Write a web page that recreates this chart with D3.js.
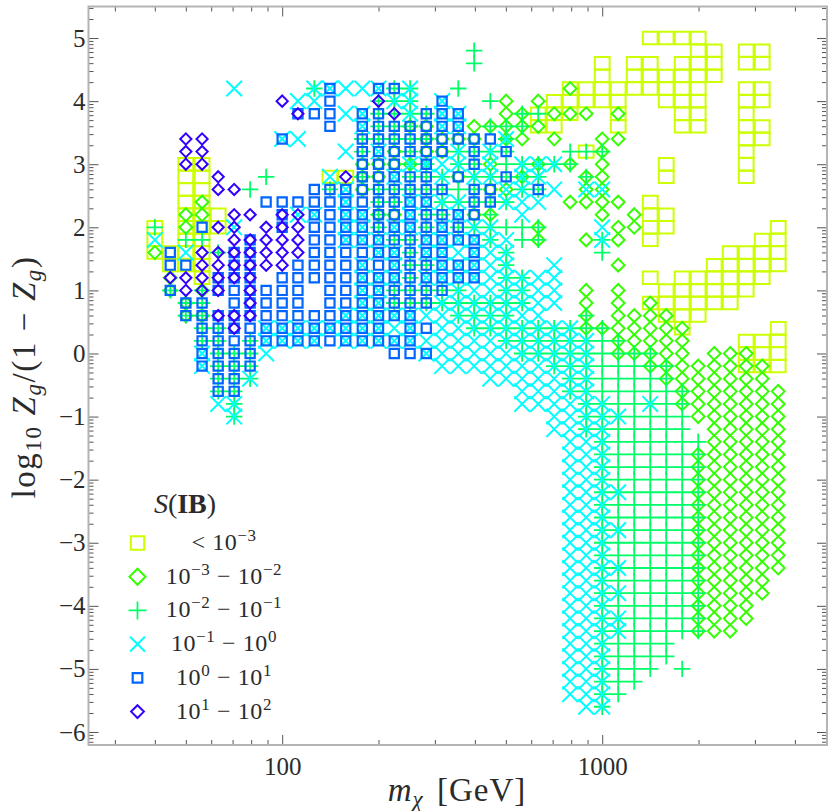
<!DOCTYPE html>
<html>
<head>
<meta charset="utf-8">
<script src="https://cdn.jsdelivr.net/npm/d3@7"></script>
<style>
  html, body { margin: 0; padding: 0; background: #fff; }
  svg { display: block; }
  text { font-family: "Liberation Serif", serif; fill: #2b2b2b; }
</style>
</head>
<body>
<div id="chart"></div>
<script>
// scan masses in GeV, rows below give positions in this grid relative to 100 GeV
const massGrid = [40, 44.7, 50, 56.2, 63.1, 70.8, 79.4, 89.1, 100, 112, 126, 141, 158, 178, 200, 224, 251, 282, 316, 355,
    398, 447, 501, 562, 631, 708, 794, 891, 1000, 1122, 1259, 1413, 1585, 1778, 1995, 2239, 2512, 2818, 3162, 3548];

// each row: [log10 Zg/(1-Zg), [mass grid positions]]
const lowest = [
    [5.0, [23,24,25,26]], [4.8, [26,27,29,30]], [4.6, [20,22,23,25,26,27,29,30]], [4.4, [20,22,23,24,25,26,27]],
    [4.2, [18,19,20,21,22,23,24,25,26,29,30]], [4.0, [17,18,19,20,21,24,25,26,29,30]], [3.8, [16,17,18,21,25,26,29]],
    [3.6, [16,17,21,25,26,29,30]], [3.4, [29,30]], [3.2, [19,29]], [3.0, [-6,-5,24,29]], [2.8, [-6,-5,3,4,24,29]],
    [2.6, [-6,-5]], [2.4, [-6,-5,23]], [2.2, [-6,-5,-4,23,24]], [2.0, [-8,-6,-5,-4,23,24,31]], [1.8, [-8,-6,-5,23,30,31]],
    [1.6, [-8,-7,-6,-5,28,29,30,31]], [1.4, [-7,-6,-5,27,28,29,30,31]], [1.2, [-5,23,25,26,27,28,29,30]],
    [1.0, [24,25,26,27,28,29]], [0.8, [23,24,25,26,27,28]], [0.6, [24,25,26]], [0.4, [25,31]],
    [0.2, [29,30,31]], [0, [29,30,31]], [-0.2, [29,30,31]]
];
const low = [
    [4.2, [18]], [4.0, [14,16]], [3.8, [14,15,17,18,19,21]], [3.6, [8,9,12,13,14,15,16]], [3.4, [9,10,11,12,14,15,17,20,21]],
    [3.2, [7,9,10,20]], [3.0, [5,6,7,8,13,16,18,20]], [2.8, [5,6,11,15,19,20]], [2.6, [5,13,14,19,20]], [2.4, [-5,18,19,20,21]],
    [2.2, [-6,-5,6,7,12,13,20,22]], [2.0, [-6,16,21,22]], [1.8, [16,19,21]], [1.6, [-8]], [1.4, [21]], [1.2, [-7]],
    [1.0, [-7,-5,19,21]], [0.8, [-6,19,21,23]], [0.6, [-6,-5,19,21,22,23,24]], [0.4, [19,20,21,22,23,24,25]],
    [0.2, [21,22,23,24,25]], [0, [21,22,23,24,25,27,28,29]], [-0.2, [23,24,25,26,27,28,29,30]], [-0.4, [24,25,26,27,28,29,30]],
    [-0.6, [25,26,27,28,29,30,31]], [-0.8, [25,26,27,28,29,30,31]], [-1.0, [26,27,28,29,30,31]], [-1.2, [27,28,29,30,31]],
    [-1.4, [27,28,29,30,31]], [-1.6, [26,27,28,29,30,31]], [-1.8, [26,27,28,29,30,31]], [-2.0, [26,27,28,29,30,31]],
    [-2.2, [26,27,28,29,30,31]], [-2.4, [26,27,28,29,30,31]], [-2.6, [26,27,28,29,30,31]], [-2.8, [26,27,28,29,30,31]],
    [-3.0, [26,27,28,29,30,31]], [-3.2, [26,27,28,29,30,31]], [-3.4, [26,27,28,29,30,31]], [-3.6, [26,27,28,29,30]],
    [-3.8, [26,27,28,29,30]], [-4.0, [26,27,28,29]], [-4.2, [26,27,28,29]], [-4.4, [26,27,28]]
];
const middle = [
    [4.8, [12]], [4.6, [12]], [4.2, [2,7,8,11]], [4.0, [6,7,8,13]], [3.8, [6,7,8,9,15,16]], [3.6, [6,7,8,13,14,15]],
    [3.4, [5,6,7,8,9,14]], [3.2, [5,8,11,12,13,14,18,19,20]], [3.0, [8,9,11,12,14,15,16,17,18]],
    [2.8, [-1,5,8,9,10,12,13,14,15,16,19]], [2.6, [-2,3,6,7,8,9,10,11,12,15,16]], [2.4, [6,7,10,11,12,13,14]],
    [2.2, [6,9,10,13]], [2.0, [-8,6,9,11,12,13,14,15,16]], [1.8, [-6,-5,7,8,13,15,16,20]], [1.6, [-4,8,14,20]], [1.4, [8,9,14]],
    [1.2, [8,14,15]], [1.0, [-7,-5,7,8,9,10,11,14,15]], [0.8, [-6,-5,7,8,9,10,11,12,13,14,15]], [0.6, [-6,-5,11,12,13,14,19]],
    [0.4, [-5,-4,12,13,14,15,16,17,18,19,20]], [0.2, [-5,-4,-2,14,15,16,17,18,19,20,21]],
    [0, [-4,-3,-2,15,16,17,18,19,20,21,22,23]], [-0.2, [-4,-3,-2,17,18,19,20,21,22,23,24]], [-0.4, [-4,-3,-2,18,19,20,21,22,23,24]],
    [-0.6, [-4,-3,18,19,20,21,22,23,24,25]], [-0.8, [-3,19,20,21,22,23,24,25]], [-1.0, [-3,19,20,21,22,23,24,25]],
    [-1.2, [19,20,21,22,23,24,25]], [-1.4, [20,21,22,23,24,25,26]], [-1.6, [20,21,22,23,24,25,26]], [-1.8, [20,21,22,23,24,25,26]],
    [-2.0, [20,21,22,23,24,25,26]], [-2.2, [20,21,22,23,24,25,26]], [-2.4, [20,21,22,23,24,25,26]], [-2.6, [20,21,22,23,24,25,26]],
    [-2.8, [20,21,22,23,24,25,26]], [-3.0, [20,21,22,23,24,25,26]], [-3.2, [20,21,22,23,24,25,26]], [-3.4, [20,21,22,23,24,25,26]],
    [-3.6, [20,21,22,23,24,25,26]], [-3.8, [20,21,22,23,24,25,26]], [-4.0, [20,21,22,23,24,25,26]], [-4.2, [20,21,22,23,24,25,26]],
    [-4.4, [20,21,22,23,24,25,26]], [-4.6, [20,21,22,23,24]], [-4.8, [20,21,22,23,24]], [-5.0, [20,21,22,23,25]],
    [-5.2, [20,21,22]], [-5.4, [20,21]], [-5.6, [20]]
];
const high = [
    [4.2, [-3,2,3,4,5,6,8]], [4.0, [1,2,7,8,10]], [3.8, [4,5,8,10,11]], [3.6, [5,10,11]], [3.4, [0,1,14]], [3.2, [4,6,11,13]],
    [3.0, [8,9,10,11,13,15,16,17]], [2.8, [3,7,10,12,13,15,16]], [2.6, [4,14,15,17,19,20]], [2.4, [4,8,9,10,11,14,15,16]],
    [2.2, [1,2,4,5,8,11,15]], [2.0, [-3,4,5,7,8,10,12,13,20]], [1.8, [-8,4,5,6,9,10,11,12,13,14,20]],
    [1.6, [-6,6,7,9,10,11,12,13,14]], [1.4, [5,7,10,11,12,13,14,17]], [1.2, [5,6,7,9,10,11,12,13,14,15,16,17]],
    [1.0, [5,6,11,12,13,14,15,16,17]], [0.8, [5,6,10,11,12,13,14,15,16,17]], [0.6, [4,5,6,7,8,9,10,11,12,13,14,15,16]],
    [0.4, [-1,0,1,2,3,4,5,6,7,8,10,11,12,13,14,15,16,17,18]], [0.2, [-1,0,1,2,4,5,6,7,8,9,10,11,12,13,14,15,16,17,18,19]],
    [0, [-5,-1,9,10,11,12,13,14,15,16,17,18,19]], [-0.2, [-5,10,11,12,13,14,15,16,17,18,19]], [-0.4, [-2,13,14,15,16,17,18,19]],
    [-0.6, [15,16,17,18,19]], [-0.8, [-4,-3,15,16,17,18,19,20,23]], [-1.0, [-3,17,18,19,20,21]], [-1.2, [17,18,19,20]],
    [-1.4, [18,19,20]], [-1.6, [18,19,20]], [-1.8, [18,19,20]], [-2.0, [18,19,20]], [-2.2, [18,19,20,21]], [-2.4, [18,19,20]],
    [-2.6, [18,19,20]], [-2.8, [18,19,20,21]], [-3.0, [18,19,20]], [-3.2, [18,19,20]], [-3.4, [18,19,20,21]], [-3.6, [18,19,20]],
    [-3.8, [18,19,20,21]], [-4.0, [18,19,20]], [-4.2, [18,19,20,21]], [-4.4, [18,19,20,21]], [-4.6, [18,19,20]], [-4.8, [18,19,20]],
    [-5.0, [18,19,20]], [-5.2, [18,19,20]], [-5.4, [18,19,20]], [-5.6, [19,20]]
];
const higher = [
    [4.2, [3,6,7]], [4.0, [3,10]], [3.8, [1,2,3,5,6,9,10,11]], [3.6, [3,5,6,7,8,9,10,11]], [3.4, [0,5,6,7,8,9,10,11,12,13]],
    [3.2, [5,6,7,8,9,10,12,14]], [3.0, [5,6,7,9,12]], [2.8, [5,6,7,8,9,11,14]], [2.6, [2,3,4,5,6,7,8,9,10,12,13,16]],
    [2.4, [-1,0,1,2,3,4,5,6,7,8,9,12,13]], [2.2, [0,2,3,4,5,6,7,8,9,10,11,12]], [2.0, [-5,0,2,3,4,5,6,7,8,9,10,11]],
    [1.8, [-2,2,3,4,5,6,7,8,9,10,11,12]], [1.6, [-7,-3,-2,2,3,4,5,6,7,8,9,10,12]], [1.4, [-7,-6,-3,-2,1,2,3,4,5,6,7,8,9,10,11,12]],
    [1.2, [-4,-3,-2,0,1,2,3,4,5,6,7,8,9,10,11,12]], [1.0, [-7,-4,-3,-2,-1,0,1,3,4,5,6,7,8,9,10]], [0.8, [-6,-5,-3,-2,-1,0,1,3,4,5,6,7,8,9]],
    [0.6, [-6,-5,-4,-3,-2,-1,0,1,2,3,4,5,6,7,8]], [0.4, [-5,-4,-3,-2,-1,0,1,2,3,4,5,6,8,9]], [0.2, [-5,-4,-3,-2,-1,0,1,2,3,4,5,6,7,8]],
    [0, [-5,-4,-3,-2,7,8,9]], [-0.2, [-5,-4,-3,-2]], [-0.4, [-4,-3]], [-0.6, [-4,-3]]
];
const highest = [
    [4.0, [0,6]], [3.8, [1,7]], [3.4, [-6,-5]], [3.2, [-6,-5]], [3.0, [-6,-5]], [2.8, [-4,4]], [2.6, [-4,-3]], [2.2, [-3,-2,0,1]],
    [2.0, [-4,-3,-1,0,1]], [1.8, [-3,-2,-1,0,1]], [1.6, [-5,-4,-3,-2,-1,0,1]], [1.4, [-5,-4,-3,-2,-1,0]], [1.2, [-7,-6,-5,-4,-3,-2]],
    [1.0, [-6,-5,-4,-2]], [0.8, [-2]], [0.6, [-4,-3,-2]], [0.4, [-3]]
];

const xMajorTicks = [100, 1000];
const xMinorTicks = [30, 40, 50, 60, 70, 80, 90, 200, 300, 400, 500, 600, 700, 800, 900, 2000, 3000, 4000];
const yMajorTicks = [-6, -5, -4, -3, -2, -1, 0, 1, 2, 3, 4, 5];
const legendLabels = ["< 10^−3", "10^−3 − 10^−2", "10^−2 − 10^−1", "10^−1 − 10^0", "10^0 − 10^1", "10^1 − 10^2"];

const width = 830, height = 811;
const plot = {left: 88.5, right: 827, top: 6.5, bottom: 745};

const x = d3.scaleLog().domain([24.82, 5040]).range([plot.left, plot.right]);
const y = d3.scaleLinear().domain([-6.206, 5.50]).range([plot.bottom, plot.top]);

const rectPath = (rx, ry) => `M${-rx},${-ry}H${rx}V${ry}H${-rx}Z`;
const diamondPath = r => `M0,${-r}L${r},0L0,${r}L${-r},0Z`;
const plusPath = r => `M${-r},0H${r}M0,${-r}V${r}`;
const timesPath = r => `M${-r},${-r}L${r},${r}M${-r},${r}L${r},${-r}`;

// Mathematica Hue colours, one per S(IB) bin
const series = [
    {rows: lowest, color: "#ccff00", sw: 2, path: rectPath(7.4, 6.2), key: rectPath(6.7, 6.7)},
    {rows: low, color: "#33ff00", sw: 2, path: diamondPath(6.4), key: diamondPath(8)},
    {rows: middle, color: "#00ff66", sw: 1.8, path: plusPath(8.2), key: plusPath(9)},
    {rows: high, color: "#00ffff", sw: 2, path: timesPath(7.8), key: timesPath(7.4)},
    {rows: higher, color: "#0066ff", sw: 2.2, path: rectPath(4.6, 4.6), key: rectPath(4.8, 4.8)},
    {rows: highest, color: "#3300ff", sw: 2, path: diamondPath(5.6), key: diamondPath(6.4)}
];

const svg = d3.select("#chart").append("svg")
    .attr("width", width)
    .attr("height", height)
    .attr("viewBox", `0 0 ${width} ${height}`);

// points
series.forEach(s => {
    const points = s.rows.flatMap(([z, cols]) => cols.map(k => ({m: massGrid[k + 8], z: z})));
    svg.append("g").selectAll("path")
        .data(points)
        .join("path")
            .attr("transform", d => `translate(${x(d.m)},${y(d.z)})`)
            .attr("d", s.path)
            .attr("fill", "none")
            .attr("stroke", s.color)
            .attr("stroke-width", s.sw);
});

// frame and ticks
const yMinorTicks = yMajorTicks.concat([-7]).flatMap(t => [2, 3, 4, 5, 6, 7, 8, 9].map(n => t + Math.log10(n)))
    .filter(t => t > y.domain()[0] && t < y.domain()[1]);

const drawAxis = (axis, dx, dy) => {
    const g = svg.append("g").attr("transform", `translate(${dx},${dy})`).call(axis);
    g.select(".domain").remove();
    g.selectAll(".tick line").attr("stroke", "#555").attr("stroke-width", 1);
    return g;
};

drawAxis(d3.axisBottom(x).tickValues(xMajorTicks).tickSize(-10).tickPadding(12).tickFormat(d => d), 0, plot.bottom)
    .selectAll("text").style("font-size", "25px").style("font-family", "Liberation Serif").attr("fill", "#2b2b2b");
drawAxis(d3.axisBottom(x).tickValues(xMinorTicks).tickSize(-5).tickFormat(""), 0, plot.bottom);
drawAxis(d3.axisTop(x).tickValues(xMajorTicks).tickSize(-10).tickFormat(""), 0, plot.top);
drawAxis(d3.axisTop(x).tickValues(xMinorTicks).tickSize(-5).tickFormat(""), 0, plot.top);
drawAxis(d3.axisLeft(y).tickValues(yMajorTicks).tickSize(-10).tickPadding(3).tickFormat(d => d3.format("d")(d).replace("-", "−")), plot.left, 0)
    .selectAll("text").style("font-size", "25px").style("font-family", "Liberation Serif").attr("fill", "#2b2b2b");
drawAxis(d3.axisLeft(y).tickValues(yMinorTicks).tickSize(-5).tickFormat(""), plot.left, 0);
drawAxis(d3.axisRight(y).tickValues(yMajorTicks).tickSize(-10).tickFormat(""), plot.right, 0);
drawAxis(d3.axisRight(y).tickValues(yMinorTicks).tickSize(-5).tickFormat(""), plot.right, 0);

svg.append("rect")
    .attr("x", plot.left)
    .attr("y", plot.top)
    .attr("width", plot.right - plot.left)
    .attr("height", plot.bottom - plot.top)
    .attr("fill", "none")
    .attr("stroke", "#b4b4b4")
    .attr("stroke-width", 2);

// axis titles, sub/superscripts as tspans
const addRuns = (text, runs) => {
    runs.forEach(r => {
        const t = text.append("tspan").text(r.t);
        if (r.i) t.style("font-style", "italic");
        if (r.b) t.style("font-weight", 700);
        if (r.dy) t.attr("dy", r.dy);
        if (r.fs) t.style("font-size", r.fs + "px");
        if (r.dx) t.attr("dx", r.dx);
    });
};

addRuns(svg.append("text")
    .attr("x", 457)
    .attr("y", 801)
    .attr("text-anchor", "middle")
    .style("font-size", "33px")
    .style("letter-spacing", "1px"), [
        {t: "m", i: true},
        {t: "χ", i: true, fs: 23, dy: 6},
        {t: " [GeV]", dy: -6, dx: 4}
    ]);

addRuns(svg.append("text")
    .attr("transform", "translate(35,377) rotate(-90)")
    .attr("text-anchor", "middle")
    .style("font-size", "33px")
    .style("letter-spacing", "1.6px"), [
        {t: "log"},
        {t: "10", fs: 23, dy: 6},
        {t: " Z", i: true, dy: -6},
        {t: "g", i: true, fs: 23, dy: 6},
        {t: "/(1 − ", dy: -6},
        {t: "Z", i: true},
        {t: "g", i: true, fs: 23, dy: 6},
        {t: ")", dy: -6}
    ]);

// legend
addRuns(svg.append("text")
    .attr("x", 185)
    .attr("y", 513)
    .attr("text-anchor", "middle")
    .style("font-size", "28px"), [
        {t: "S", i: true},
        {t: "("},
        {t: "IB", b: true},
        {t: ")"}
    ]);

const legendY = d3.scalePoint().domain(legendLabels).range([543, 711.6]);
const legend = svg.append("g").selectAll("g")
    .data(legendLabels)
    .join("g")
        .attr("transform", d => `translate(0,${legendY(d)})`);

legend.append("path")
    .attr("transform", "translate(137.5,0)")
    .attr("d", (d, i) => series[i].key)
    .attr("fill", "none")
    .attr("stroke", (d, i) => series[i].color)
    .attr("stroke-width", (d, i) => series[i].sw);

legend.append("text")
    .attr("x", 224)
    .attr("y", 7)
    .attr("text-anchor", "middle")
    .style("font-size", "24px")
    .style("letter-spacing", "0.6px")
    .each(function(d) {
        const runs = [];
        d.split(" ").forEach((part, i, all) => {
            const pieces = part.split("^");
            const gap = i < all.length - 1 ? " " : "";
            if (pieces.length === 1) {
                runs.push({t: pieces[0] + gap});
            } else {
                runs.push({t: pieces[0]});
                runs.push({t: pieces[1], fs: 17, dy: -9});
                if (gap) runs.push({t: gap, dy: 9});
            }
        });
        addRuns(d3.select(this), runs);
    });
</script>
</body>
</html>
